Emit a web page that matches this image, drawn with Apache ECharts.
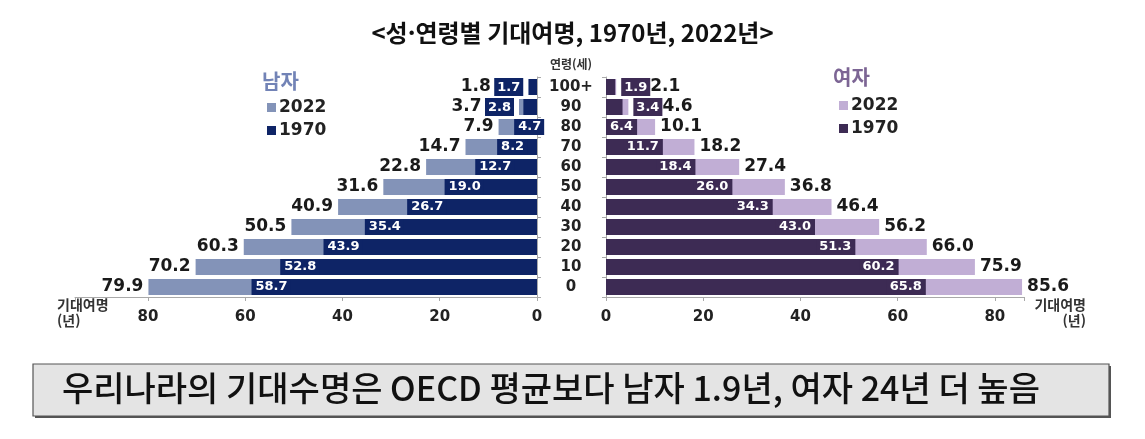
<!DOCTYPE html>
<html lang="ko">
<head>
    <meta charset="UTF-8">
    <title>성·연령별 기대여명</title>
    <script src="https://cdn.jsdelivr.net/npm/echarts@6/dist/echarts.min.js"></script>
    <style>
        html, body { margin: 0; padding: 0; background: #fff; }
        #chart { width: 1145px; height: 439px; }
    </style>
</head>
<body>
    <div id="chart"></div>
    <script>
        // 연령 (아래 -> 위)
        var ages = ['0', '10', '20', '30', '40', '50', '60', '70', '80', '90', '100+'];
        var male2022 = [79.9, 70.2, 60.3, 50.5, 40.9, 31.6, 22.8, 14.7, 7.9, 3.7, 1.8];
        var male1970 = [58.7, 52.8, 43.9, 35.4, 26.7, 19.0, 12.7, 8.2, 4.7, 2.8, 1.7];
        var female2022 = [85.6, 75.9, 66.0, 56.2, 46.4, 36.8, 27.4, 18.2, 10.1, 4.6, 2.1];
        var female1970 = [65.8, 60.2, 51.3, 43.0, 34.3, 26.0, 18.4, 11.7, 6.4, 3.4, 1.9];
        var yearNames = ['2022', '1970'];

        var numFont = 'DejaVu Sans';
        var krFont = 'Noto Sans CJK KR';
        var mLight = '#8393b8', mDark = '#0e2466';
        var fLight = '#c1aed5', fDark = '#3d2b54';
        var axisGray = '#a9a9a9';
        var small = 4; // 1970 값이 이보다 작으면 라벨을 막대 바깥에 붙임

        function fmt(v) { return v.toFixed(1); }

        function innerData(arr) {
            return arr.map(function (v) {
                return { value: v, label: { show: v >= small } };
            });
        }

        function xAxisOf(grid, inverse, max) {
            return {
                gridIndex: grid, type: 'value', inverse: inverse,
                min: 0, max: max, interval: 20,
                splitLine: { show: false },
                axisLine: { show: true, lineStyle: { color: axisGray } },
                axisTick: { show: true, length: 4, lineStyle: { color: axisGray } },
                axisLabel: {
                    margin: 13, color: '#222', fontFamily: numFont, fontWeight: 'bold', fontSize: 15,
                    formatter: function (v) { return v <= 80 ? v : ''; }
                }
            };
        }

        var chart = echarts.init(document.getElementById('chart'));
        var option = {
            animation: false,
            title: {
                text: '<성·연령별 기대여명, 1970년, 2022년>',
                left: 'center', top: 16,
                textStyle: { fontFamily: krFont, fontWeight: 'bold', fontSize: 24, color: '#111' }
            },
            legend: [{
                orient: 'vertical', left: 262, top: 94, itemWidth: 9, itemHeight: 9, itemGap: 6,
                icon: 'rect', data: ['M2022', 'M1970'],
                formatter: function (n) { return n.slice(1); },
                textStyle: { fontFamily: numFont, fontWeight: 'bold', fontSize: 17, color: '#222', padding: [0, 0, 0, -2] }
            }, {
                orient: 'vertical', left: 834, top: 92, itemWidth: 9, itemHeight: 9, itemGap: 6,
                icon: 'rect', data: ['F2022', 'F1970'],
                formatter: function (n) { return n.slice(1); },
                textStyle: { fontFamily: numFont, fontWeight: 'bold', fontSize: 17, color: '#222', padding: [0, 0, 0, -2] }
            }],
            grid: [
                { left: 75, right: 608, top: 77, bottom: 142 },
                { left: 606, right: 121, top: 77, bottom: 142 }
            ],
            xAxis: [xAxisOf(0, true, 95), xAxisOf(1, false, 86)],
            yAxis: [{
                gridIndex: 0, type: 'category', data: ages, position: 'right',
                axisLine: { show: true, lineStyle: { color: axisGray } },
                axisTick: { show: true, length: 4, lineStyle: { color: axisGray } },
                axisLabel: {
                    align: 'center', margin: 34, color: '#222',
                    fontFamily: numFont, fontWeight: 'bold', fontSize: 15
                }
            }, {
                gridIndex: 1, type: 'category', data: ages, position: 'left',
                axisLine: { show: true, lineStyle: { color: axisGray } },
                axisTick: { show: true, length: 4, lineStyle: { color: axisGray } },
                axisLabel: { show: false }
            }],
            series: [{
                name: 'M' + yearNames[0], type: 'bar', xAxisIndex: 0, yAxisIndex: 0,
                data: male2022, barCategoryGap: '20%',
                itemStyle: { color: mLight },
                label: {
                    show: true, position: 'left', distance: 5,
                    formatter: function (p) {
                        var i = p.dataIndex;
                        if (male1970[i] < small) return '{v|' + fmt(p.value) + '} {b|' + fmt(male1970[i]) + '}';
                        return '{v|' + fmt(p.value) + '}';
                    },
                    rich: {
                        v: { fontFamily: numFont, fontWeight: 'bold', fontSize: 17, color: '#1a1a1a' },
                        b: { fontFamily: numFont, fontWeight: 'bold', fontSize: 13, color: '#fff', backgroundColor: mDark, padding: [3, 3, 2, 3] }
                    }
                }
            }, {
                name: 'M' + yearNames[1], type: 'bar', xAxisIndex: 0, yAxisIndex: 0,
                data: innerData(male1970), barGap: '-100%', barCategoryGap: '20%',
                itemStyle: { color: mDark },
                label: {
                    position: 'insideLeft', distance: 1,
                    formatter: function (p) { return fmt(p.value); },
                    fontFamily: numFont, fontWeight: 'bold', fontSize: 13, color: '#fff',
                    backgroundColor: mDark, padding: [2, 3, 1, 3]
                }
            }, {
                name: 'F' + yearNames[0], type: 'bar', xAxisIndex: 1, yAxisIndex: 1,
                data: female2022, barCategoryGap: '20%',
                itemStyle: { color: fLight },
                label: {
                    show: true, position: 'right', distance: 5,
                    formatter: function (p) {
                        var i = p.dataIndex;
                        if (female1970[i] < small) return '{b|' + fmt(female1970[i]) + '}{v|' + fmt(p.value) + '}';
                        return '{v|' + fmt(p.value) + '}';
                    },
                    rich: {
                        v: { fontFamily: numFont, fontWeight: 'bold', fontSize: 17, color: '#1a1a1a' },
                        b: { fontFamily: numFont, fontWeight: 'bold', fontSize: 13, color: '#fff', backgroundColor: fDark, padding: [3, 3, 2, 3] }
                    }
                }
            }, {
                name: 'F' + yearNames[1], type: 'bar', xAxisIndex: 1, yAxisIndex: 1,
                data: innerData(female1970), barGap: '-100%', barCategoryGap: '20%',
                itemStyle: { color: fDark },
                label: {
                    position: 'insideRight', distance: 1,
                    formatter: function (p) { return fmt(p.value); },
                    fontFamily: numFont, fontWeight: 'bold', fontSize: 13, color: '#fff',
                    backgroundColor: fDark, padding: [2, 3, 1, 3]
                }
            }],
            graphic: [
                { type: 'text', x: 262, y: 71, style: { text: '남자', font: 'bold 20px "' + krFont + '"', fill: '#7283b6' } },
                { type: 'text', x: 833, y: 67, style: { text: '여자', font: 'bold 20px "' + krFont + '"', fill: '#7c6594' } },
                { type: 'text', x: 571, y: 58, style: { text: '연령(세)', font: 'bold 12px "' + krFont + '"', fill: '#333', align: 'center', textAlign: 'center' } },
                { type: 'text', x: 57, y: 297, style: { text: '기대여명\n(년)', font: 'bold 14px "' + krFont + '"', fill: '#333', lineHeight: 16 } },
                { type: 'text', x: 1086, y: 297, style: { text: '기대여명\n(년)', font: 'bold 14px "' + krFont + '"', fill: '#333', lineHeight: 16, align: 'right', textAlign: 'right' } },
                { type: 'rect', shape: { x: 35, y: 366, width: 1076, height: 52 }, style: { fill: '#555' } },
                { type: 'rect', shape: { x: 33, y: 364, width: 1076, height: 52 }, style: { fill: '#e4e4e4', stroke: '#555', lineWidth: 1.2 } },
                { type: 'text', x: 62, y: 371, style: { text: '우리나라의 기대수명은 OECD 평균보다 남자 1.9년, 여자 24년 더 높음', font: '500 34px "' + krFont + '"', fill: '#111' } }
            ]
        };
        chart.setOption(option);
    </script>
</body>
</html>
